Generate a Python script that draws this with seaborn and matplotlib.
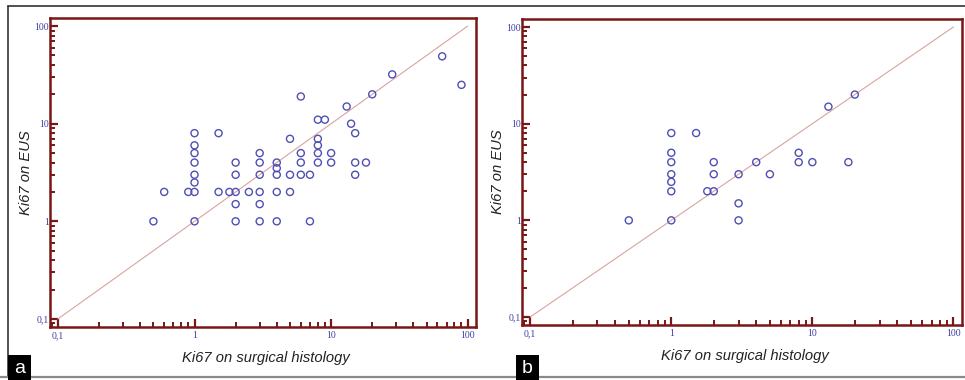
import numpy as np
import pandas as pd
import matplotlib
matplotlib.use("Agg")
import matplotlib.pyplot as plt
from matplotlib.patches import Rectangle
from matplotlib.lines import Line2D
from matplotlib.ticker import FixedLocator, LogLocator, NullFormatter
import seaborn as sns

# ---------------- data ----------------
# Panel a
a_hist = [0.5, 0.6, 0.9,
          1, 1, 1, 1, 1, 1, 1, 1,
          1.5, 1.5, 1.8,
          2, 2, 2, 2, 2,
          2.5,
          3, 3, 3, 3, 3, 3,
          4, 4, 4, 4, 4,
          5, 5, 5,
          6, 6, 6, 6,
          7, 7,
          8, 8, 8, 8, 8,
          9, 10, 10, 13, 14,
          15, 15, 15, 18, 20, 28, 65, 90]
a_eus = [1, 2, 2,
         8, 6, 5, 4, 3, 2.5, 2, 1,
         8, 2, 2,
         4, 3, 2, 1.5, 1,
         2,
         5, 4, 3, 2, 1.5, 1,
         4, 3.5, 3, 2, 1,
         7, 3, 2,
         19, 5, 4, 3,
         3, 1,
         11, 7, 6, 5, 4,
         11, 5, 4, 15, 10,
         8, 4, 3, 4, 20, 32, 49, 25]

# Panel b
b_hist = [0.5,
          1, 1, 1, 1, 1, 1, 1,
          1.5, 1.8,
          2, 2, 2,
          3, 3, 3,
          4, 5, 8, 8, 10, 13, 18, 20]
b_eus = [1,
         8, 5, 4, 3, 2.5, 2, 1,
         8, 2,
         4, 3, 2,
         3, 1.5, 1,
         4, 3, 5, 4, 4, 15, 4, 20]

identity_range = [0.1, 100]
tick_values = [0.1, 1, 10, 100]
tick_labels = ["0,1", "1", "10", "100"]
panel_letters = ["a", "b"]
x_title = "Ki67 on surgical histology"
y_title = "Ki67 on EUS"

# ---------------- style ----------------
sns.set_style("white")
plt.rcParams["font.family"] = ["Liberation Sans", "DejaVu Sans"]

W, H = 965, 380
fig = plt.figure(figsize=(W / 100, H / 100), dpi=100)

spine_col = "#7a1616"
marker_col = "#4f4fb5"
line_col = "#d9a3a0"
tick_lab_col = "#3c3ca8"

def px_axes(left, right, top, bottom):
    return [left / W, 1 - bottom / H, (right - left) / W, (bottom - top) / H]

axes_px = [(50, 476, 18, 327), (522, 962, 19, 325)]
datasets = [(a_hist, a_eus), (b_hist, b_eus)]

for (l, r, t, b), (xs, ys) in zip(axes_px, datasets):
    ax = fig.add_axes(px_axes(l, r, t, b))
    df = pd.DataFrame({"hist": xs, "eus": ys})
    ax.set_xscale("log")
    ax.set_yscale("log")
    line_df = pd.DataFrame({"x": identity_range, "y": identity_range})
    sns.lineplot(data=line_df, x="x", y="y", ax=ax, color=line_col, lw=0.8,
                 zorder=1)
    sns.scatterplot(data=df, x="hist", y="eus", ax=ax, marker="o",
                    facecolors="none", edgecolor=marker_col, linewidth=1.0,
                    s=26, zorder=3)
    ax.set_xlim(0.0875, 115)
    ax.set_ylim(0.0827, 121)
    for sp in ax.spines.values():
        sp.set_color(spine_col)
        sp.set_linewidth(1.8)
    for axis in (ax.xaxis, ax.yaxis):
        axis.set_major_locator(FixedLocator(tick_values))
        axis.set_minor_locator(LogLocator(base=10, subs=np.arange(2, 10)))
        axis.set_minor_formatter(NullFormatter())
    ax.set_xticks(tick_values, tick_labels)
    ax.set_yticks(tick_values, tick_labels)
    ax.tick_params(which="major", direction="in", length=6, width=1.6,
                   color=spine_col, labelsize=7, labelcolor=tick_lab_col,
                   top=False, right=False, bottom=True, left=True, pad=3)
    ax.tick_params(which="minor", direction="in", length=3.5, width=1.4,
                   color=spine_col, top=False, right=False, bottom=True,
                   left=True)
    ax.tick_params(axis="y", which="major", pad=0.5)
    for lab in ax.get_xticklabels() + ax.get_yticklabels():
        lab.set_fontfamily(["Liberation Serif", "DejaVu Serif"])
    ax.set_xlabel(x_title, fontsize=10.6, fontstyle="italic", color="#222222",
                  va="center")
    ax.set_ylabel(y_title, fontsize=10.6, fontstyle="italic", color="#222222",
                  va="center")
    w_px, h_px = r - l, b - t
    ax.xaxis.set_label_coords(0.507, -31 / h_px)
    ax.yaxis.set_label_coords(-24 / w_px, 0.5)
    ax.grid(False)

# outer frame lines
fig.add_artist(Line2D([8 / W, 1], [1 - 6 / H, 1 - 6 / H], color="#333333",
                      lw=1.2, transform=fig.transFigure))
fig.add_artist(Line2D([8 / W, 8 / W], [1 - 6 / H, 1 - 377 / H],
                      color="#333333", lw=1.2, transform=fig.transFigure))
fig.add_artist(Line2D([0, 1], [1 - 377 / H, 1 - 377 / H], color="#8a8a8a",
                      lw=1.6, transform=fig.transFigure))

# panel letters
for x0, letter in zip([8, 516], panel_letters):
    fig.add_artist(Rectangle((x0 / W, 0), 23 / W, 25 / H, facecolor="black",
                             edgecolor="none", transform=fig.transFigure,
                             zorder=5))
    fig.text((x0 + 11.5) / W, 11.5 / H, letter, color="white", fontsize=14,
             ha="center", va="center", zorder=6)

fig.savefig("out.png", dpi=100)
